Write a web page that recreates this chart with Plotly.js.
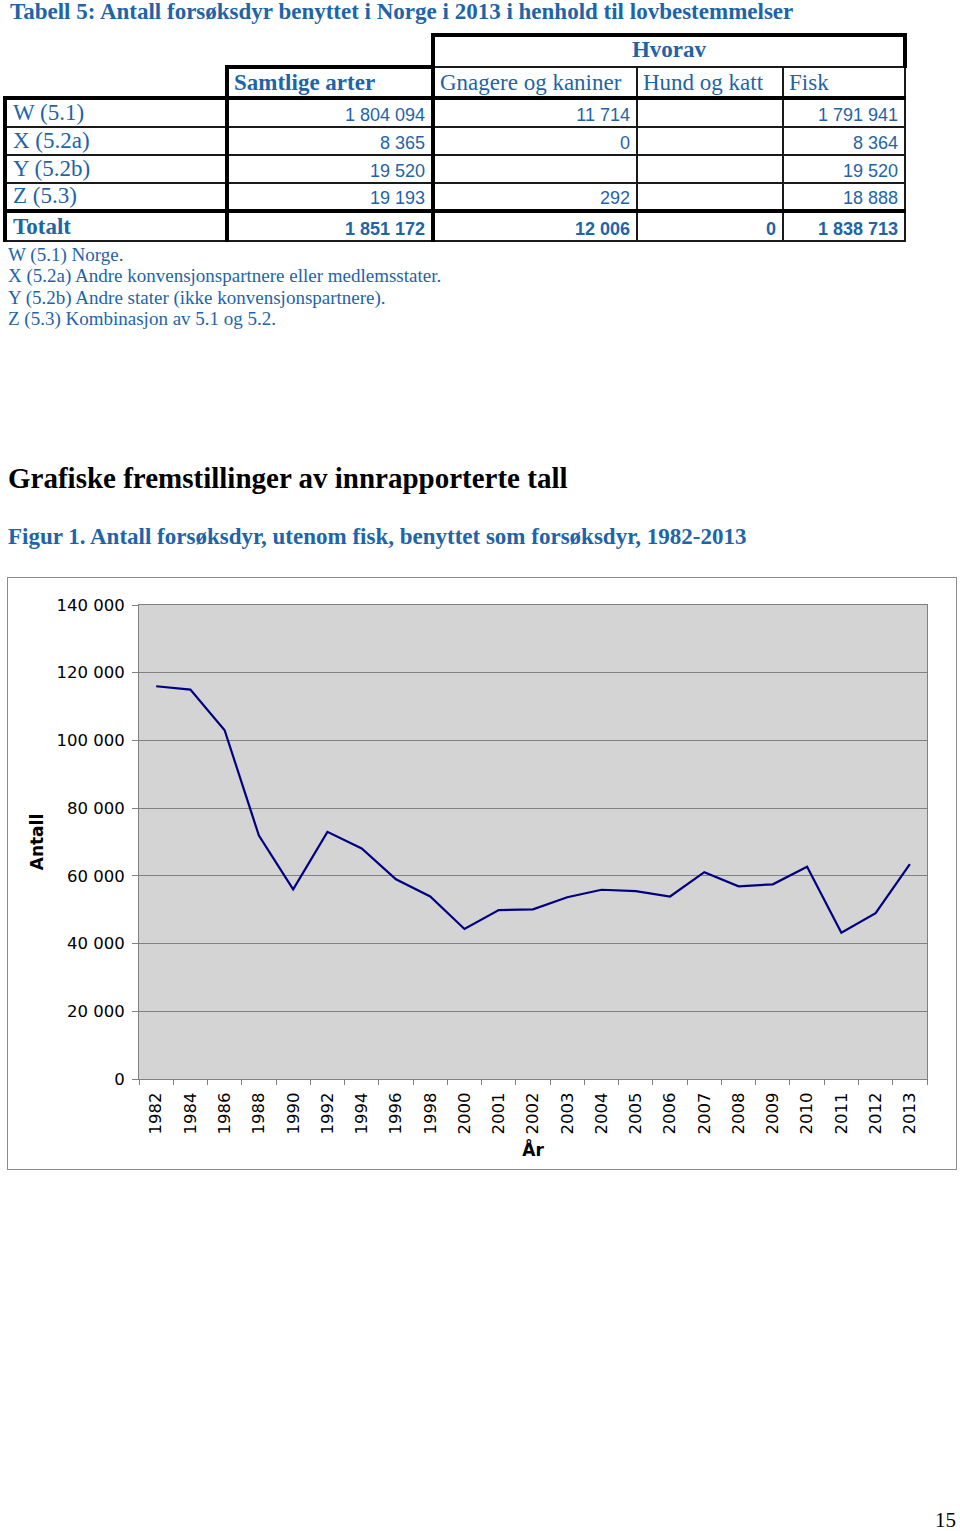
<!DOCTYPE html>
<html>
<head>
<meta charset="utf-8">
<script src="https://cdn.plot.ly/plotly-3.0.1.min.js"></script>
<style>
  html, body { margin: 0; padding: 0; background: #fff; }
  #page { position: relative; width: 960px; height: 1531px; overflow: hidden; font-family: "Liberation Serif", "Times New Roman", serif; }
  .abs { position: absolute; white-space: nowrap; }
  .blue { color: #1e64a8; }
  #title { left: 10px; top: 0px; font-size: 23px; line-height: 23px; font-weight: bold; }
  #tbl { position: absolute; left: 3px; top: 33px; border-collapse: collapse; table-layout: fixed; width: 900px; }
  #tbl td { padding: 0 6px 2px 6px; vertical-align: bottom; line-height: 1; overflow: hidden; white-space: nowrap; }
  .lab { font-family: "Liberation Serif", serif; font-size: 23px; color: #1e64a8; }
  .num { font-family: "Liberation Sans", Arial, sans-serif; font-size: 18px; color: #1e64a8; text-align: right; }
  .hd { font-family: "Liberation Serif", serif; font-size: 23px; color: #1e64a8; }
  .b { font-weight: bold; }
  #notes { left: 8px; top: 243.5px; font-size: 19px; line-height: 21.5px; }
  #h2 { left: 8px; top: 464px; font-size: 29px; line-height: 29px; font-weight: bold; color: #000; }
  #fig { left: 8px; top: 525px; font-size: 23px; line-height: 23px; font-weight: bold; }
  #pnum { right: 4px; top: 1510px; font-size: 21px; line-height: 21px; color: #000; }
  #chartbox { position: absolute; left: 7px; top: 577px; width: 950px; height: 593px; border: 1px solid #8c8c8c; box-sizing: border-box; }
  #chart { width: 948px; height: 591px; }
</style>
</head>
<body>
<div id="page">
  <div id="title" class="abs blue">Tabell 5: Antall forsøksdyr benyttet i Norge i 2013 i henhold til lovbestemmelser</div>
  <table id="tbl"></table>
  <div id="notes" class="abs blue"></div>
  <div id="h2" class="abs">Grafiske fremstillinger av innrapporterte tall</div>
  <div id="fig" class="abs blue">Figur 1. Antall forsøksdyr, utenom fisk, benyttet som forsøksdyr, 1982-2013</div>
  <div id="chartbox"><div id="chart"></div></div>
  <div id="pnum" class="abs">15</div>
</div>
<script>
// ---- Table data ----
const groupHeader = "Hvorav";
const colHeaders = ["Samtlige arter", "Gnagere og kaniner", "Hund og katt", "Fisk"];
const rowLabels = ["W (5.1)", "X (5.2a)", "Y (5.2b)", "Z (5.3)"];
const samtligeArter = [1804094, 8365, 19520, 19193];
const gnagereKaniner = [11714, 0, null, 292];
const hundKatt = [null, null, null, null];
const fisk = [1791941, 8364, 19520, 18888];
const totalLabel = "Totalt";
const totals = [1851172, 12006, 0, 1838713];
const footnotes = [
  "W (5.1) Norge.",
  "X (5.2a) Andre konvensjonspartnere eller medlemsstater.",
  "Y (5.2b) Andre stater (ikke konvensjonspartnere).",
  "Z (5.3) Kombinasjon av 5.1 og 5.2."
];

// ---- Chart data ----
const years = ["1982","1984","1986","1988","1990","1992","1994","1996","1998","2000",
  "2001","2002","2003","2004","2005","2006","2007","2008","2009","2010","2011","2012","2013"];
const antall = [116000,115000,103000,71900,56000,73000,68100,59000,53900,44300,
  49900,50100,53700,55900,55500,53900,61100,56900,57500,62700,43200,49000,63500];

// ---- Build table ----
function fmt(n) {
  if (n === null || n === undefined) return "";
  return String(n).replace(/\B(?=(\d{3})+(?!\d))/g, " ");
}
const TH = "4px solid #000", TN = "2px solid #1a1a1a";
const tbl = document.getElementById("tbl");
const cg = document.createElement("colgroup");
[222, 206, 204, 146, 122].forEach(w => { const c = document.createElement("col"); c.style.width = w + "px"; cg.appendChild(c); });
tbl.appendChild(cg);

function cell(tr, text, cls, styles, colspan) {
  const td = document.createElement("td");
  td.textContent = text;
  if (cls) td.className = cls;
  if (colspan) td.colSpan = colspan;
  Object.assign(td.style, styles || {});
  tr.appendChild(td);
  return td;
}
// row 0: group header
let tr = document.createElement("tr"); tr.style.height = "32px";
cell(tr, "", "", {}, 2);
cell(tr, groupHeader, "hd b", { borderTop: TH, borderLeft: TH, borderRight: TH, borderBottom: TN, textAlign: "center", verticalAlign: "middle", paddingBottom: "4px" }, 3);
tbl.appendChild(tr);
// row 1: column headers
tr = document.createElement("tr"); tr.style.height = "31px";
cell(tr, "", "", { borderBottom: TH });
cell(tr, colHeaders[0], "hd b", { borderTop: TH, borderLeft: TH, borderRight: TH, borderBottom: TH, paddingLeft: "5px" });
cell(tr, colHeaders[1], "hd", { borderLeft: TH, borderRight: TN, borderBottom: TH, paddingLeft: "5px" });
cell(tr, colHeaders[2], "hd", { borderRight: TN, borderBottom: TH, paddingLeft: "5px" });
cell(tr, colHeaders[3], "hd", { borderRight: TN, borderBottom: TH, paddingLeft: "5px" });
tbl.appendChild(tr);
// data rows
const rowH = [29, 28, 28, 28];
rowLabels.forEach((lab, i) => {
  const tr = document.createElement("tr"); tr.style.height = rowH[i] + "px";
  const bb = (i === rowLabels.length - 1) ? TH : TN;
  cell(tr, lab, "lab", { borderLeft: TH, borderBottom: bb });
  cell(tr, fmt(samtligeArter[i]), "num", { borderLeft: TH, borderRight: TH, borderBottom: bb });
  cell(tr, fmt(gnagereKaniner[i]), "num", { borderRight: TN, borderBottom: bb });
  cell(tr, fmt(hundKatt[i]), "num", { borderRight: TN, borderBottom: bb });
  cell(tr, fmt(fisk[i]), "num", { borderRight: TN, borderBottom: bb });
  tbl.appendChild(tr);
});
// total row
tr = document.createElement("tr"); tr.style.height = "30px";
cell(tr, totalLabel, "lab b", { borderLeft: TH, borderBottom: TN });
cell(tr, fmt(totals[0]), "num b", { borderLeft: TH, borderRight: TH, borderBottom: TN });
cell(tr, fmt(totals[1]), "num b", { borderRight: TN, borderBottom: TN });
cell(tr, fmt(totals[2]), "num b", { borderRight: TN, borderBottom: TN });
cell(tr, fmt(totals[3]), "num b", { borderRight: TN, borderBottom: TN });
tbl.appendChild(tr);

// footnotes
const notes = document.getElementById("notes");
footnotes.forEach(t => { const d = document.createElement("div"); d.textContent = t; notes.appendChild(d); });

// ---- Chart ----
const axisGray = "#808080";
const tickFont = { size: 16.5, family: "DejaVu Sans, Verdana, sans-serif", color: "#000" };
Plotly.newPlot("chart", [{
  type: "scatter",
  mode: "lines",
  x: years,
  y: antall,
  line: { color: "#000080", width: 2.2 },
  hoverinfo: "x+y"
}], {
  width: 948, height: 591,
  margin: { l: 131, r: 29, t: 27, b: 90 },
  paper_bgcolor: "#ffffff",
  plot_bgcolor: "#d4d4d4",
  separators: ", ",
  showlegend: false,
  font: { family: "DejaVu Sans, Verdana, sans-serif", color: "#000" },
  xaxis: {
    type: "category",
    range: [-0.5, years.length - 0.5],
    tickson: "boundaries",
    ticks: "outside", ticklen: 5, tickcolor: axisGray,
    tickangle: -90,
    ticklabelstandoff: 6,
    tickfont: tickFont,
    showgrid: false,
    showline: true, linecolor: axisGray, linewidth: 1, mirror: true,
    title: { text: "<b>År</b>", font: { size: 17, family: "DejaVu Sans, Verdana, sans-serif" }, standoff: 10 },
    fixedrange: true
  },
  yaxis: {
    range: [0, 140000],
    tick0: 0, dtick: 20000,
    tickformat: ",d",
    ticks: "outside", ticklen: 6, tickcolor: axisGray,
    ticklabelstandoff: 4,
    tickfont: tickFont,
    showgrid: true, gridcolor: axisGray, gridwidth: 1,
    zeroline: false,
    showline: true, linecolor: axisGray, linewidth: 1, mirror: true,
    title: { text: "<b>Antall</b>", font: { size: 17, family: "DejaVu Sans, Verdana, sans-serif" }, standoff: 8 },
    fixedrange: true
  }
}, { displayModeBar: false, staticPlot: true });
</script>
</body>
</html>
